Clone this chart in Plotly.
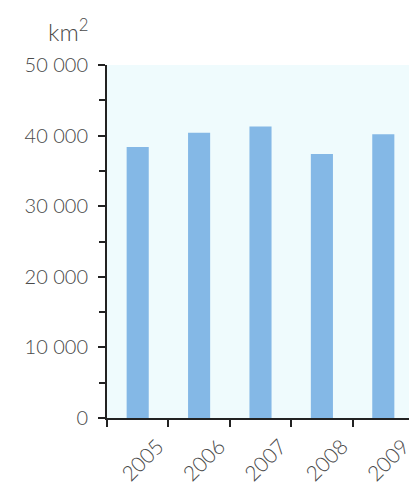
import plotly.graph_objects as go

years = ["2005", "2006", "2007", "2008", "2009"]
area_km2 = [38400, 40400, 41300, 37400, 40200]
y_ticks = [0, 10000, 20000, 30000, 40000, 50000]
y_tick_labels = ["0", "10 000", "20 000", "30 000", "40 000", "50 000"]

fig = go.Figure()
fig.add_trace(go.Bar(
    x=years, y=area_km2,
    marker=dict(color="#84b8e6", line=dict(width=0)),
    width=0.36,
))

font_fam = "Lato, 'Open Sans', sans-serif"
txt_col = "#4a4a4a"
fig.update_layout(
    width=417, height=484,
    margin=dict(l=99, r=11, t=57, b=74, autoexpand=False),
    paper_bgcolor="white",
    plot_bgcolor="#effbfd",
    showlegend=False,
    font=dict(family=font_fam, color=txt_col, size=20, weight=300),
    annotations=[dict(
        text="km<sup>2</sup>", x=-0.127, xref="paper", y=1.099, yref="paper",
        xanchor="center", yanchor="middle",
        showarrow=False, font=dict(size=24, color=txt_col, family=font_fam, weight=300),
    )],
)
fig.update_xaxes(
    automargin=False,
    showline=True, linewidth=2, linecolor="#222222",
    ticks="outside", tickson="boundaries", ticklen=7, tickwidth=2, tickcolor="#222222",
    tickangle=-45, ticklabelshift=20, ticklabelstandoff=6,
    showgrid=False, zeroline=False,
    tickfont=dict(size=21, color=txt_col, family=font_fam, weight=300),
)
fig.update_yaxes(
    automargin=False,
    range=[0, 50000],
    showline=True, linewidth=2, linecolor="#222222",
    tickmode="array", tickvals=y_ticks, ticktext=y_tick_labels,
    ticks="outside", ticklen=7, tickwidth=2, tickcolor="#222222",
    minor=dict(dtick=5000, ticks="outside", ticklen=6, tickwidth=2, tickcolor="#222222", showgrid=False),
    showgrid=False, zeroline=False, ticklabelstandoff=6,
    tickfont=dict(size=20, color=txt_col, family=font_fam, weight=300),
)

fig.write_html("out.html")
